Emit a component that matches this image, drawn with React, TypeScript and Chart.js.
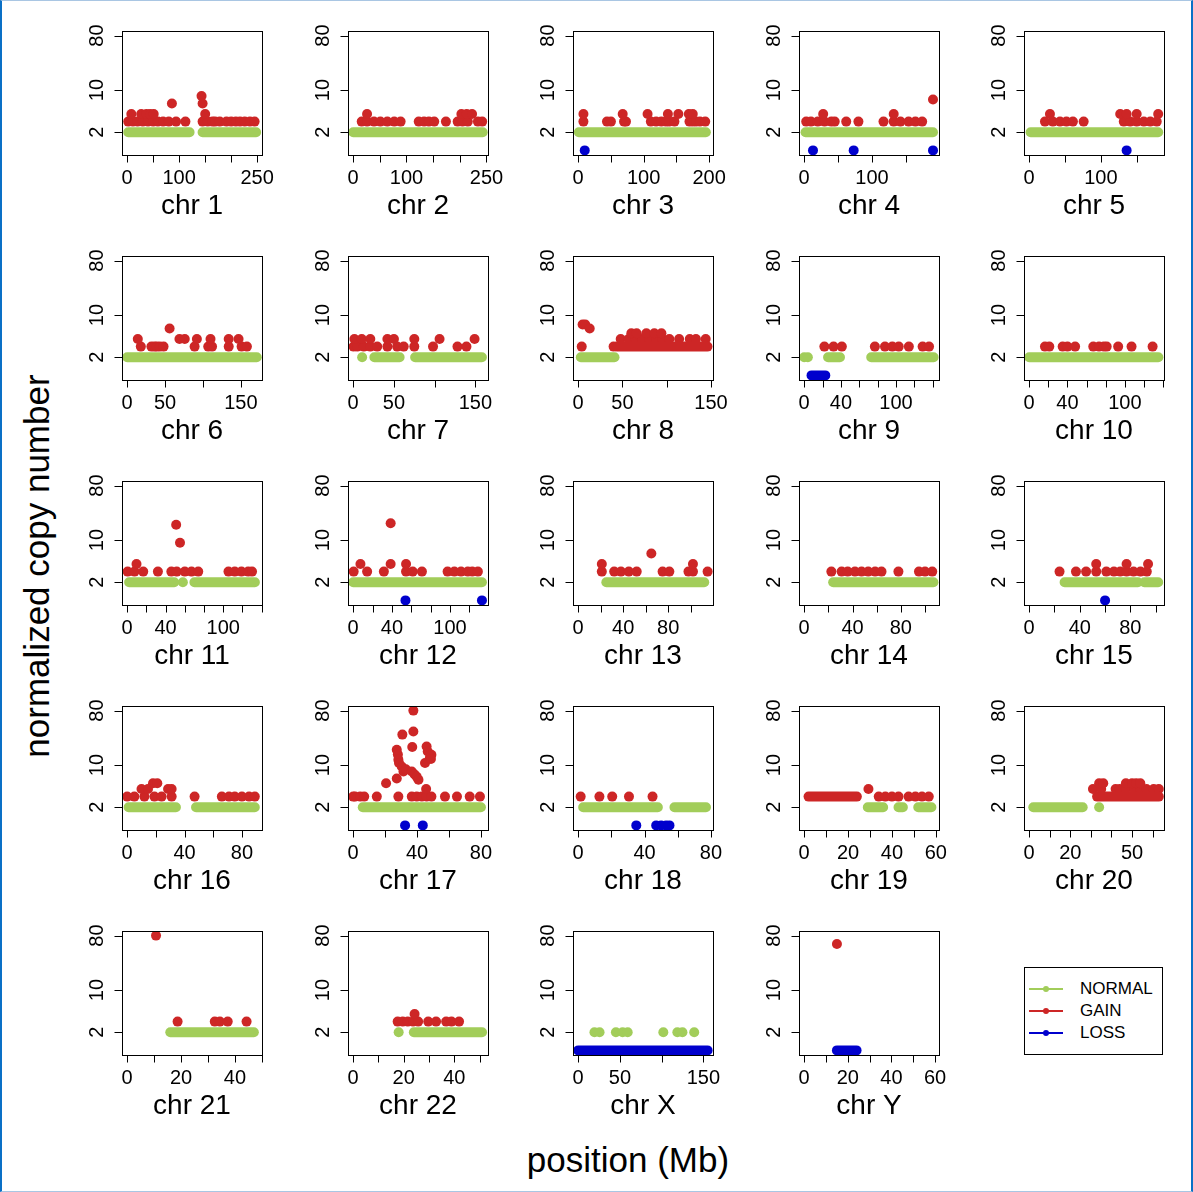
import React, { useEffect, useRef } from "react";
import { Chart, registerables } from "chart.js";

Chart.register(...registerables);

const CHROMOSOMES = ["1", "2", "3", "4", "5", "6", "7", "8", "9", "10", "11", "12", "13", "14", "15", "16", "17", "18", "19", "20", "21", "22", "X", "Y"];
const CHR_LENGTHS = [249.3, 243.2, 198.0, 191.2, 180.9, 171.1, 159.1, 146.4, 141.2, 135.5, 135.0, 133.9, 115.2, 107.3, 102.5, 90.4, 81.2, 78.1, 59.1, 63.0, 48.1, 51.3, 155.3, 59.4];
const X_TICK_STEPS = [50, 50, 50, 50, 50, 50, 50, 50, 20, 20, 20, 20, 20, 20, 20, 20, 20, 20, 10, 10, 10, 10, 50, 10];
const X_TICK_LABELS = [
  [0, 100, 250], [0, 100, 250], [0, 100, 200], [0, 100], [0, 100],
  [0, 50, 150], [0, 50, 150], [0, 50, 150], [0, 40, 100], [0, 40, 100],
  [0, 40, 100], [0, 40, 100], [0, 40, 80], [0, 40, 80], [0, 40, 80],
  [0, 40, 80], [0, 40, 80], [0, 40, 80], [0, 20, 40, 60], [0, 20, 50],
  [0, 20, 40], [0, 20, 40], [0, 50, 150], [0, 20, 40, 60],
];
const Y_TICKS = [2, 10, 80];
const Y_LIMITS = [1, 80];

const NORMAL_LEVEL = 2;
const LOSS_LEVEL = 1;

// NORMAL: runs of consecutive probes [start, end] (Mb) and isolated probes
const NORMAL_SEGMENTS = [
  [[2, 120], [145, 248]], [[0, 243]], [[1, 195]], [[2, 190]], [[2, 180]],
  [[0, 171]], [[26, 57], [76, 158]], [[3, 41]], [[26, 39], [73, 141]], [[0, 135]],
  [[2, 49], [70, 133]], [[0, 133]], [[25, 112]], [[24, 107]], [[28, 86], [91, 102]],
  [[1, 34], [48, 89]], [[6, 80]], [[3, 48], [58, 77]], [[29, 36], [43, 45], [52, 58]], [[2, 26]],
  [[16, 47]], [[24, 51]], [], [],
];
const NORMAL_POINTS = [
  [], [], [], [], [], [], [11], [], [0, 4], [], [58], [], [], [], [], [], [], [], [], [34], [], [18],
  [19.5, 25.6, 45.2, 53.2, 59.3, 102, 118.8, 124.9, 139], [],
];

// GAIN: [position (Mb), copy number]
const GAIN_POINTS = [
  [[2, 3], [11, 3], [20, 3], [30, 3], [40, 3], [50, 3], [59, 3], [69, 3], [80, 3], [94, 3], [112, 3], [145, 3], [155, 3], [164, 3], [169, 3], [178, 3], [191, 3], [200, 3], [209, 3], [217, 3], [226, 3], [236, 3], [245, 3], [8, 4], [27, 4], [37, 4], [44, 4], [51, 4], [150, 4], [86, 6], [143, 8], [145, 6]],
  [[16, 3], [26, 3], [39, 3], [51, 3], [64, 3], [77, 3], [89, 3], [123, 3], [133, 3], [142, 3], [152, 3], [174, 3], [196, 3], [205, 3], [215, 3], [234, 3], [242, 3], [26, 4], [203, 4], [213, 4], [223, 4]],
  [[8, 3], [44, 3], [50, 3], [70, 3], [73, 3], [111, 3], [119, 3], [127, 3], [134, 3], [139, 3], [147, 3], [170, 3], [175, 3], [180, 3], [186, 3], [194, 3], [8, 4], [68, 4], [106, 4], [137, 4], [153, 4], [169, 4], [175, 4]],
  [[3, 3], [10, 3], [20, 3], [30, 3], [40, 3], [45, 3], [62, 3], [80, 3], [117, 3], [132, 3], [142, 3], [154, 3], [164, 3], [174, 3], [28, 4], [132, 4], [190, 7]],
  [[22, 3], [33, 3], [43, 3], [52, 3], [61, 3], [76, 3], [132, 3], [141, 3], [150, 3], [160, 3], [169, 3], [178, 3], [29, 4], [127, 4], [136, 4], [150, 4], [180, 4]],
  [[18, 3], [32, 3], [36, 3], [39, 3], [43, 3], [48, 3], [89, 3], [107, 3], [112, 3], [134, 3], [151, 3], [158, 3], [14, 4], [69, 4], [76, 4], [92, 4], [110, 4], [134, 4], [147, 4], [56, 6]],
  [[0.5, 3], [5, 3], [13, 3], [21, 3], [29.5, 3], [42, 3], [54, 3], [62, 3], [75, 3], [98, 3], [128, 3], [139, 3], [1.5, 4], [10.5, 4], [21, 4], [42, 4], [50, 4], [75, 4], [106, 4], [149, 4]],
  [[5, 7], [8, 7], [13, 6], [4, 3], [40, 3], [48, 4], [57, 4], [65, 4], [72, 4], [80, 4], [88, 4], [95, 4], [103, 4], [114, 4], [126, 4], [133, 4], [144, 4], [60, 5], [66, 5], [77, 5], [86, 5], [94, 5]],
  [[22, 3], [32, 3], [41, 3], [77, 3], [88, 3], [96, 3], [103, 3], [114, 3], [129, 3], [136, 3]],
  [[16.5, 3], [21, 3], [35, 3], [40, 3], [48, 3], [67, 3], [73, 3], [78, 3], [81, 3], [93, 3], [107, 3], [129, 3]],
  [[0.5, 3], [7.6, 3], [16.7, 3], [32, 3], [46, 3], [51.6, 3], [60, 3], [67, 3], [74, 3], [105.5, 3], [112, 3], [119, 3], [126, 3], [130, 3], [9.7, 4], [55, 9], [51, 18]],
  [[0.5, 3], [14.4, 3], [31.7, 3], [54.6, 3], [61.5, 3], [71, 3], [97.5, 3], [104.5, 3], [111.4, 3], [118.4, 3], [123, 3], [128.8, 3], [7.5, 4], [38.7, 4], [54.6, 4], [38.7, 19]],
  [[21, 3], [32, 3], [38, 3], [45, 3], [52, 3], [75, 3], [81, 3], [98, 3], [102, 3], [115, 3], [21, 4], [102, 4], [65, 6]],
  [[22.5, 3], [31, 3], [36, 3], [42, 3], [47.5, 3], [53, 3], [58.7, 3], [64, 3], [78, 3], [95, 3], [100, 3], [106, 3]],
  [[24, 3], [37, 3], [45, 3], [53, 3], [61, 3], [67, 3], [72, 3], [77, 3], [82.5, 3], [88, 3], [93, 3], [53, 4], [77, 4], [94, 4]],
  [[0, 3], [5, 3], [12, 3], [19, 3], [24, 3], [31, 3], [47, 3], [66, 3], [71, 3], [75, 3], [80, 3], [85, 3], [89, 3], [10, 4], [14.5, 4], [28.5, 4], [31, 4], [18, 5], [21, 5]],
  [[0, 3], [1.2, 3], [4.4, 3], [6.9, 3], [14.8, 3], [28.3, 3], [36.7, 3], [39.8, 3], [43, 3], [46, 3], [49, 3], [57.5, 3], [65, 3], [73, 3], [79.4, 3], [20.6, 5], [27.3, 6], [27.3, 18], [28, 15], [28.3, 12.3], [28.7, 10.8], [30.4, 9.5], [31.5, 7.8], [33, 8.5], [30.8, 32], [37.7, 80], [37.7, 36], [37, 20], [36.7, 7.8], [38.5, 7], [39.8, 6.4], [40.9, 5.7], [45.7, 4], [45, 10.8], [46.7, 16.8], [46, 20.3], [48, 13.1], [49, 14.8], [48.7, 12.6]],
  [[1.5, 3], [12.8, 3], [20.5, 3], [30.6, 3], [44.8, 3]],
  [[29.3, 4], [34, 3], [37, 3], [40, 3], [43, 3], [47.6, 3], [50.7, 3], [53.7, 3], [56.8, 3]],
  [[31, 4], [35, 4], [42, 4], [44, 4], [47, 4], [51, 4], [54, 4], [57, 4], [60.5, 4], [63, 4], [34, 5], [36, 5], [47, 5], [50, 5], [52, 5], [54, 5]],
  [[10.7, 80], [18.7, 3], [32.5, 3], [34.4, 3], [37.3, 3], [44.3, 3]],
  [[17.6, 3], [19.6, 3], [21.6, 3], [23.7, 3], [25.7, 3], [29.7, 3], [32.8, 3], [36.8, 3], [38.9, 3], [41.9, 3], [24.3, 4]],
  [],
  [[15, 58]],
];
// GAIN runs of consecutive probes: [start, end, copy number]
const GAIN_SEGMENTS = [
  [], [], [], [], [], [], [], [[44, 146, 3]], [], [], [], [], [], [], [], [], [], [], [[2, 24, 3]], [[33, 63, 3]], [], [], [], [],
];

// LOSS probes and runs
const LOSS_POINTS = [
  [], [], [10], [13, 73, 190], [136], [], [], [], [], [], [], [54, 133], [], [], [60], [], [32.5, 43.6], [35, 47, 50, 53, 55], [], [], [], [], [], [],
];
const LOSS_SEGMENTS = [
  [], [], [], [], [], [], [], [], [[8, 23]], [], [], [], [], [], [], [], [], [], [], [], [], [], [[0, 155]], [[15, 24]],
];

const COLORS = { normal: "#A2CD5A", gain: "#CD2626", loss: "#0000CD" };
const FONT = '"Liberation Sans", Arial, Helvetica, sans-serif';
const LEGEND_ITEMS = ["NORMAL", "GAIN", "LOSS"];
const LEGEND_COLORS = [COLORS.normal, COLORS.gain, COLORS.loss];

const DOT_R = 5;
const BAND_W = 10;
const PAD = { left: 62, right: 23, top: 31, bottom: 70 };
const CANVAS = 225;

function bandData(segs: number[][], level?: number) {
  const out: any[] = [];
  segs.forEach((s) => {
    const lv = level !== undefined ? level : s[2];
    out.push({ x: s[0], y: lv }, { x: s[1], y: lv }, { x: s[1], y: null });
  });
  return out;
}

function Panel({ index }: { index: number }) {
  const ref = useRef<HTMLCanvasElement | null>(null);
  const c = index % 5;
  const r = Math.floor(index / 5);
  const boxLeft = Math.round(122.3 + 225.5 * c);
  const boxTop = 31 + 225 * r;

  useEffect(() => {
    const len = CHR_LENGTHS[index];
    const xmin = -0.04 * len;
    const xmax = 1.04 * len;
    const l0 = Math.log(Y_LIMITS[0]);
    const l1 = Math.log(Y_LIMITS[1]);
    const yp = 0.04 * (l1 - l0);
    const ymin = Math.exp(l0 - yp);
    const ymax = Math.exp(l1 + yp);
    const step = X_TICK_STEPS[index];
    const labels = X_TICK_LABELS[index];

    const bandStyle = (color: string) => ({
      type: "line" as const,
      borderColor: color,
      backgroundColor: color,
      borderWidth: BAND_W,
      borderCapStyle: "round" as const,
      borderJoinStyle: "round" as const,
      pointRadius: 0,
      fill: false,
      spanGaps: false,
      tension: 0,
      clip: 0,
    });
    const pointStyle = (color: string) => ({
      type: "scatter" as const,
      backgroundColor: color,
      borderColor: color,
      borderWidth: 0,
      pointRadius: DOT_R,
      pointHoverRadius: DOT_R,
      clip: 0,
    });

    const axesPlugin = {
      id: "rAxes",
      afterDatasetsDraw(chart: any) {
        const { ctx, chartArea: a, scales } = chart;
        const xs = scales.x;
        const ys = scales.y;
        const L = Math.round(a.left) + 0.5;
        const T = Math.round(a.top) + 0.5;
        const R = Math.round(a.right) + 0.5;
        const B = Math.round(a.bottom) + 0.5;
        ctx.save();
        ctx.strokeStyle = "#000";
        ctx.fillStyle = "#000";
        ctx.lineWidth = 1;
        ctx.strokeRect(L, T, R - L, B - T);
        // x axis
        const ticks: number[] = [];
        for (let t = 0; t <= xmax + 1e-9; t += step) ticks.push(t);
        const px = ticks.map((t) => Math.round(xs.getPixelForValue(t)) + 0.5);
        ctx.beginPath();
        ctx.moveTo(px[0], B);
        ctx.lineTo(px[px.length - 1], B);
        px.forEach((p) => {
          ctx.moveTo(p, B);
          ctx.lineTo(p, B + 7);
        });
        ctx.stroke();
        ctx.font = `20px ${FONT}`;
        ctx.textAlign = "center";
        ctx.textBaseline = "alphabetic";
        labels.forEach((v) => {
          ctx.fillText(String(v), xs.getPixelForValue(v), a.bottom + 29);
        });
        ctx.font = `28px ${FONT}`;
        ctx.fillText(`chr ${CHROMOSOMES[index]}`, (a.left + a.right) / 2, a.bottom + 59);
        // y axis
        const py = Y_TICKS.map((v) => Math.round(ys.getPixelForValue(v)) + 0.5);
        ctx.beginPath();
        ctx.moveTo(L, py[0]);
        ctx.lineTo(L, py[py.length - 1]);
        py.forEach((p) => {
          ctx.moveTo(L, p);
          ctx.lineTo(L - 8, p);
        });
        ctx.stroke();
        ctx.font = `20px ${FONT}`;
        Y_TICKS.forEach((v) => {
          ctx.save();
          ctx.translate(a.left - 19, ys.getPixelForValue(v));
          ctx.rotate(-Math.PI / 2);
          ctx.fillText(String(v), 0, 0);
          ctx.restore();
        });
        ctx.restore();
      },
    };

    const datasets: any[] = [
      { ...bandStyle(COLORS.normal), data: bandData(NORMAL_SEGMENTS[index], NORMAL_LEVEL) },
      { ...pointStyle(COLORS.normal), data: NORMAL_POINTS[index].map((x) => ({ x, y: NORMAL_LEVEL })) },
      { ...bandStyle(COLORS.gain), data: bandData(GAIN_SEGMENTS[index]) },
      { ...pointStyle(COLORS.gain), data: GAIN_POINTS[index].map((p) => ({ x: p[0], y: p[1] })) },
      { ...bandStyle(COLORS.loss), data: bandData(LOSS_SEGMENTS[index], LOSS_LEVEL) },
      { ...pointStyle(COLORS.loss), data: LOSS_POINTS[index].map((x) => ({ x, y: LOSS_LEVEL })) },
    ];

    const chart = new Chart(ref.current as HTMLCanvasElement, {
      type: "scatter",
      data: { datasets },
      options: {
        animation: false,
        responsive: false,
        devicePixelRatio: 1,
        events: [],
        layout: { padding: PAD },
        plugins: { legend: { display: false }, tooltip: { enabled: false }, title: { display: false } },
        scales: {
          x: { type: "linear", min: xmin, max: xmax, display: false },
          y: { type: "logarithmic", min: ymin, max: ymax, display: false },
        },
      } as any,
      plugins: [axesPlugin],
    });
    return () => chart.destroy();
  }, [index]);

  return (
    <canvas
      ref={ref}
      width={CANVAS}
      height={CANVAS}
      style={{ position: "absolute", left: boxLeft - PAD.left, top: boxTop - PAD.top, width: CANVAS, height: CANVAS }}
    />
  );
}

export default function App() {
  const rowsY = [989, 1011, 1033];
  return (
    <div
      style={{
        position: "absolute",
        left: 0,
        top: 0,
        width: 1193,
        height: 1192,
        boxSizing: "border-box",
        background: "#fff",
        borderLeft: "2px solid #0a70c6",
        borderRight: "2px solid #0a70c6",
        borderTop: "1px solid #a9c6e3",
        borderBottom: "1px solid #a9c6e3",
        overflow: "hidden",
        fontFamily: FONT,
      }}
    >
      <div style={{ position: "absolute", left: -2, top: -1, width: 1193, height: 1192 }}>
        {CHROMOSOMES.map((_, i) => (
          <Panel key={i} index={i} />
        ))}
        <div
          style={{
            position: "absolute",
            left: 37,
            top: 566,
            transform: "translate(-50%, -50%) rotate(-90deg)",
            whiteSpace: "nowrap",
            fontSize: 35,
            color: "#000",
          }}
        >
          normalized copy number
        </div>
        <div
          style={{
            position: "absolute",
            left: 628,
            top: 1160,
            transform: "translate(-50%, -50%)",
            whiteSpace: "nowrap",
            fontSize: 35,
            color: "#000",
          }}
        >
          position (Mb)
        </div>
        <div
          style={{
            position: "absolute",
            left: 1024,
            top: 967,
            width: 139,
            height: 88,
            border: "1px solid #000",
            boxSizing: "border-box",
          }}
        />
        {LEGEND_ITEMS.map((label, i) => (
          <React.Fragment key={label}>
            <div style={{ position: "absolute", left: 1029, top: rowsY[i] - 1, width: 34, height: 2, background: LEGEND_COLORS[i] }} />
            <div style={{ position: "absolute", left: 1043, top: rowsY[i] - 3, width: 6, height: 6, borderRadius: 3, background: LEGEND_COLORS[i] }} />
            <div style={{ position: "absolute", left: 1080, top: rowsY[i] - 11, height: 22, lineHeight: "22px", fontSize: 17, color: "#000", whiteSpace: "nowrap" }}>
              {label}
            </div>
          </React.Fragment>
        ))}
      </div>
    </div>
  );
}
